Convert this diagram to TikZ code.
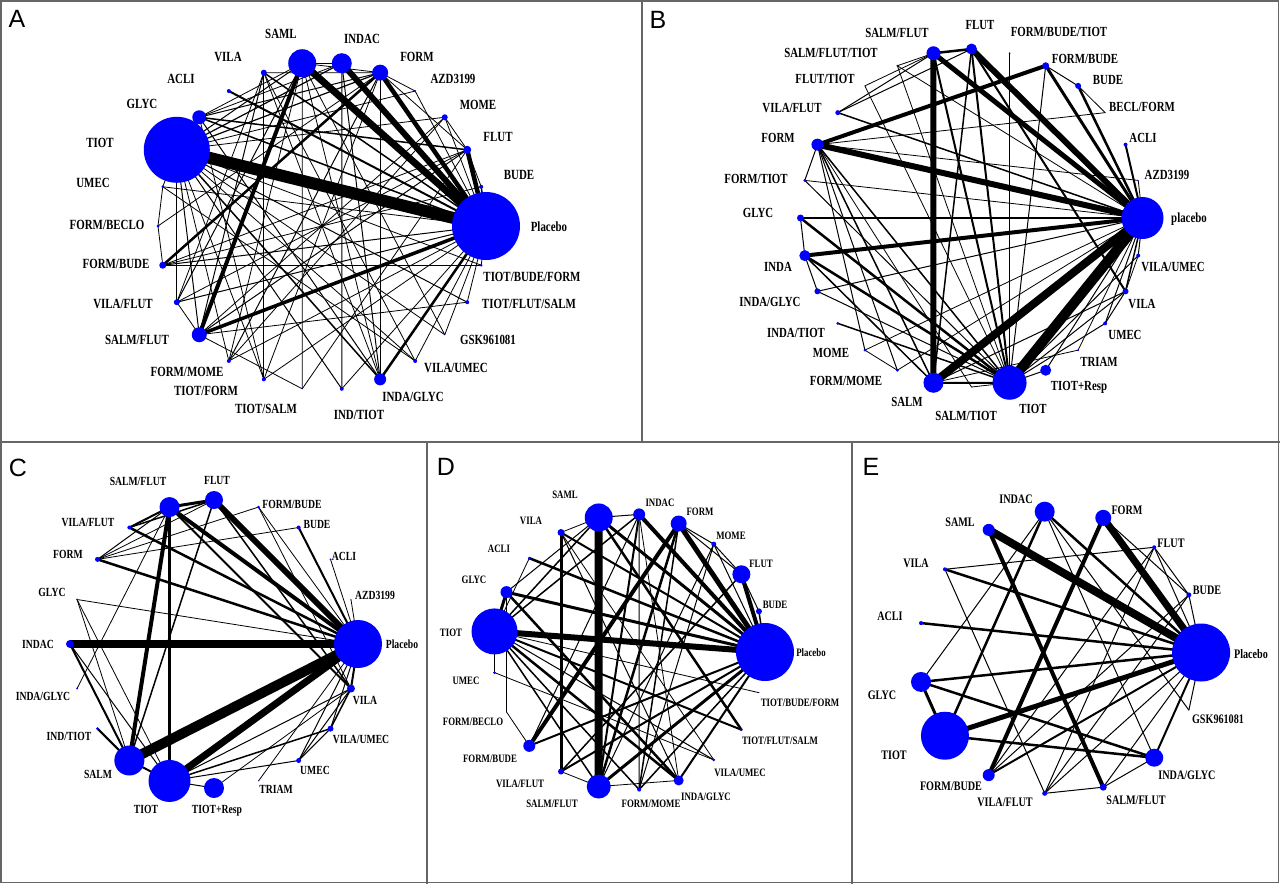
\documentclass[tikz,border=0pt]{standalone}
\usepackage{fontspec}
\setmainfont{Liberation Serif}
\newfontfamily\labfont[FakeStretch=0.78]{Liberation Serif}
\newfontfamily\letfont{Liberation Sans}
\definecolor{netblue}{RGB}{0,0,255}
\pgfdeclarelayer{bg}
\pgfdeclarelayer{edges}
\pgfsetlayers{bg,edges,main}
\tikzset{
 dot/.style={circle, fill=netblue, draw=none, inner sep=0pt, outer sep=0pt},
 lab/.style={inner sep=0pt, anchor=center},
 labA/.style={lab, font=\labfont\bfseries\fontsize{14}{14}\selectfont},
 labB/.style={lab, font=\labfont\bfseries\fontsize{13.9}{14}\selectfont},
 labC/.style={lab, font=\labfont\bfseries\fontsize{12.4}{13}\selectfont},
 labD/.style={lab, font=\labfont\bfseries\fontsize{11.3}{12}\selectfont},
 labE/.style={lab, font=\labfont\bfseries\fontsize{13}{13}\selectfont},
 edge/.style={draw=black, line cap=butt},
 panelletter/.style={font=\letfont\fontsize{25}{25}\selectfont, inner sep=0pt},
 frame/.style={draw=black!60, line width=1.2pt}
}
\newcommand\netnodes[8]{%
  \foreach \kk/\nm/\rad/\lx/\ly/\txt in {#8}{%
    \pgfmathsetmacro\ang{\kk*360/#6}%
    \node[dot, minimum size={2*\rad}] (#1\nm) at ({#2+#4*cos(\ang)},{#3-#5*sin(\ang)}) {};
    \node[#7] (#1\nm-l) at (\lx,\ly) {\txt};
  }%
}
\newcommand\netedges[2]{%
  \begin{pgfonlayer}{edges}
  \foreach \ea/\eb/\ew in {#2} \draw[edge, line width=\ew] (#1\ea.center) -- (#1\eb.center);
  \end{pgfonlayer}
}
\begin{document}
\begin{tikzpicture}[x=1pt,y=-1pt]
\useasboundingbox (0,0) rectangle (1280,884);
\begin{pgfonlayer}{bg}
\fill[white] (0,0) rectangle (1280,884);
\end{pgfonlayer}
% frames
\draw[frame] (1,1) rectangle (1278.5,882.5);
\draw[frame] (0,442) -- (1280,442);
\draw[frame] (642,0) -- (642,442);
\draw[frame] (427,442) -- (427,884);
\draw[frame] (852,442) -- (852,884);
% panel letters
\node[panelletter] (LA) at (17,19) {A};
\node[panelletter] (LB) at (658,20) {B};
\node[panelletter] (LC) at (18,468) {C};
\node[panelletter] (LD) at (446,467) {D};
\node[panelletter] (LE) at (871,467) {E};

% ---------------- Panel A ----------------
\netnodes{A}{322}{226}{164}{164}{26}{labA}{
0/pl/34/549/227/Placebo, 1/bude/2/519/175/BUDE, 2/flut/4/498/137/FLUT,
3/mome/3/478/105/MOME, 4/azd/1/453/79/AZD3199, 5/form/8/417/57/FORM,
6/indac/10/362/39/INDAC, 7/saml/14/281/34/SAML, 8/vila/3/228/57/VILA,
9/acli/2/181/79/ACLI, 10/glyc/7/142/104/GLYC, 11/tiot/33/100/143/TIOT,
12/umec/1.5/93/183/UMEC, 13/fbec/1.5/107/225/{FORM/BECLO},
14/fbud/3.5/116/264/{FORM/BUDE}, 15/vflu/3/123/304/{VILA/FLUT},
16/sflu/7.5/137/340/{SALM/FLUT}, 17/fmom/2/187/372/{FORM/MOME},
18/tfor/2/206/391/{TIOT/FORM}, 19/tsal/0.5/266/409/{TIOT/SALM},
20/itio/2/359/415/{IND/TIOT}, 21/iglyc/6/413/397/{INDA/GLYC},
22/vume/2/456/368/{VILA/UMEC}, 23/gsk/0.5/488/340/GSK961081,
24/tfs/2/529/304/{TIOT/FLUT/SALM}, 25/tbf/1.5/532/277/{TIOT/BUDE/FORM}}
\netedges{A}{pl/tiot/12, pl/saml/7, pl/indac/6, pl/form/4.5, pl/flut/4.5, pl/sflu/3.5, pl/iglyc/2.5, pl/acli/2, pl/glyc/1.5, pl/vila/1.5, pl/fbud/1, pl/vflu/1, pl/umec/0.8, pl/mome/0.8, pl/azd/0.8, pl/bude/1.5, pl/tbf/0.8, pl/tfs/0.8, pl/gsk/0.8, pl/vume/0.8, pl/fmom/0.8, pl/itio/0.8, pl/tfor/0.8,
saml/sflu/4, fbud/form/2.5, glyc/flut/1.5,
tiot/sflu/1, tiot/vflu/1, tiot/fmom/0.8, tiot/tfor/0.8, tiot/itio/1, tiot/iglyc/1.5, tiot/vume/0.8, tiot/gsk/0.8, tiot/tfs/1, tiot/tbf/0.8, tiot/glyc/0.8, tiot/umec/0.8, tiot/indac/1.2, tiot/form/1.2, tiot/saml/1, tiot/mome/0.8, tiot/azd/0.8,
saml/indac/1, saml/form/0.8, saml/vflu/1, saml/fmom/0.8, saml/tsal/0.8, saml/glyc/0.8, saml/iglyc/0.8, saml/gsk/0.8,
vila/vflu/0.8, vila/tfor/0.8, vila/vume/0.8, vila/sflu/1, vila/iglyc/0.8, vila/form/0.8,
glyc/iglyc/1, glyc/form/1, glyc/indac/0.8, glyc/tfor/0.8,
umec/fbec/0.8, umec/vume/0.8, fbec/fbud/0.8, fbec/form/0.8,
fbud/bude/0.8, fbud/tbf/0.8, fbud/flut/0.8, vflu/sflu/0.8, vflu/flut/0.8,
sflu/flut/1, sflu/tfs/0.8, sflu/mome/0.8, sflu/tsal/0.8,
fmom/mome/0.8, fmom/form/1, tfor/form/0.8, itio/indac/1, iglyc/indac/1, iglyc/form/1,
mome/flut/0.8, flut/form/0.8, flut/bude/0.8, azd/form/0.8, tsal/flut/0.8}

% ---------------- Panel B ----------------
\netnodes{B}{971.5}{218}{171}{169}{28}{labB}{
0/pl/21/1189/219/placebo, 1/azd/0.5/1167/175/AZD3199, 2/acli/2/1143/138/ACLI,
3/becl/0.5/1142/107/{BECL/FORM}, 4/bude/3/1108/80/BUDE, 5/fbud/3.5/1085/59/{FORM/BUDE},
6/fbt/1/1059/32/{FORM/BUDE/TIOT}, 7/flut/5.5/980/25/FLUT, 8/sflu/7/897/33/{SALM/FLUT},
9/sft/1/831/53/{SALM/FLUT/TIOT}, 10/ftio/0.5/825/79/{FLUT/TIOT}, 11/vflu/2.5/792/108/{VILA/FLUT},
12/form/6/778/138/FORM, 13/ftiot/1.5/756/179/{FORM/TIOT}, 14/glyc/3.5/758/213/GLYC,
15/inda/5.5/778/267/INDA, 16/iglyc/3/770/302/{INDA/GLYC}, 17/itio/1.5/796/333/{INDA/TIOT},
18/mome/1.5/831/353/MOME, 19/fmom/1.5/846/381/{FORM/MOME}, 20/salm/10/907/402/SALM,
21/stio/0.5/966/416/{SALM/TIOT}, 22/tiot/17/1033/409/TIOT, 23/tres/5.5/1079/387/TIOT+Resp,
24/triam/1/1099/362/TRIAM, 25/umec/2/1125/335/UMEC, 26/vila/3/1142/304/VILA,
27/vume/2/1173/267/{VILA/UMEC}}
\netedges{B}{pl/tiot/10, pl/salm/8, pl/flut/6, pl/form/6, pl/sflu/5, pl/inda/4, pl/fbud/3, pl/bude/2.5, pl/glyc/2, pl/acli/2, pl/vila/1.5, pl/vflu/1.5, pl/iglyc/1, pl/tres/1, pl/triam/0.8, pl/umec/1, pl/vume/1, pl/azd/0.8, pl/mome/0.8, pl/fmom/0.8, pl/ftiot/0.8, pl/sft/0.8,
sflu/salm/6, form/fbud/4, sflu/flut/2.5, sflu/tiot/2, flut/tiot/2, flut/vila/2, fbt/tiot/0.8, salm/tiot/2, inda/tiot/2.5, glyc/tiot/2.5, itio/tiot/1.5, mome/form/1, fmom/form/1, fmom/mome/0.8, vflu/flut/1, vflu/sflu/1, ftiot/form/1, ftiot/tiot/1, ftio/sflu/0.8, ftio/tiot/0.8, sft/sflu/0.8, sft/tiot/0.8, iglyc/inda/1, iglyc/tiot/1, tres/tiot/1, umec/tiot/1, umec/vila/1, vila/tiot/1, vila/salm/1, vume/tiot/1, vume/vila/0.8, becl/bude/0.8, becl/form/0.8, form/tiot/1.5, form/salm/1.5, flut/salm/1.5, glyc/inda/1, inda/salm/1.5, fbud/bude/1, fbud/tiot/1, stio/form/0.8, stio/tiot/0.8, triam/salm/0.8, azd/form/0.8}

% ---------------- Panel C ----------------
\netnodes{C}{214}{644}{144}{144}{20}{labC}{
0/pl/24/402/644/Placebo, 1/azd/0.5/375/595/AZD3199, 2/acli/1/344/556/ACLI,
3/bude/2/317/524/BUDE, 4/fbud/1.5/292/504/{FORM/BUDE}, 5/flut/9/217/480/FLUT,
6/sflu/10/138/481/{SALM/FLUT}, 7/vflu/2/88/522/{VILA/FLUT}, 8/form/2.5/68/554/FORM,
9/glyc/1/52/592/GLYC, 10/indac/4/38/644/INDAC, 11/iglyc/1/43/696/{INDA/GLYC},
12/itio/1.5/69/736/{IND/TIOT}, 13/salm/15/98/774/SALM, 14/tiot/21/146/809/TIOT,
15/tres/10/217/811/TIOT+Resp, 16/triam/0.5/276/789/TRIAM, 17/umec/2.5/315/770/UMEC,
18/vume/3/361/739/{VILA/UMEC}, 19/vila/4/365/700/VILA}
\netedges{C}{pl/salm/10, pl/indac/8, pl/tiot/7, pl/flut/6, pl/sflu/4, pl/vflu/2.5, pl/form/2.5, pl/bude/2, pl/vila/2, pl/glyc/0.8, pl/fbud/0.8, pl/acli/0.8, pl/azd/0.8, pl/umec/1, pl/vume/1, pl/triam/0.8,
sflu/salm/4, sflu/tiot/2.5, sflu/flut/3, sflu/vila/2, flut/vila/1.5, flut/salm/1.5, vflu/sflu/2, vflu/flut/1.5, form/sflu/1, form/flut/0.8, form/bude/0.8, glyc/salm/0.8, glyc/tiot/0.8, iglyc/sflu/0.8, indac/salm/2, indac/tiot/1, itio/salm/2, fbud/vila/0.8, fbud/form/0.8, tiot/vila/1, tiot/vume/1.5, tiot/umec/1, tiot/tres/1, tres/vila/0.8, umec/vume/1, umec/vila/1, salm/tiot/2, vume/vila/1.5}

% ---------------- Panel D ----------------
\netnodes{D}{629}{652}{136}{138}{21}{labD}{
0/pl/29/811/653/Placebo, 1/bude/3/775/605/BUDE, 2/flut/9/761/564/FLUT,
3/mome/2.5/731/536/MOME, 4/form/8/700/512/FORM, 5/indac/6/660/503/INDAC,
6/saml/14/565/495/SAML, 7/vila/3.5/531/521/VILA, 8/acli/1.5/499/549/ACLI,
9/glyc/6/474/580/GLYC, 10/tiot/23/451/633/TIOT, 11/umec/1.5/466/681/UMEC,
12/fbec/0.5/473/722/{FORM/BECLO}, 13/fbud/6/490/759/{FORM/BUDE}, 14/vflu/3/520/784/{VILA/FLUT},
15/sflu/12/552/804/{SALM/FLUT}, 16/fmom/2/651/804/{FORM/MOME}, 17/iglyc/5/706/797/{INDA/GLYC},
18/vume/1.5/740/773/{VILA/UMEC}, 19/tfs/1.5/780/741/{TIOT/FLUT/SALM}, 20/tbf/0.5/800/703/{TIOT/BUDE/FORM}}
\netedges{D}{saml/sflu/8, pl/tiot/6, pl/form/5, pl/indac/4, pl/flut/4, form/fbud/4, vila/vflu/3, pl/saml/3, pl/sflu/3, glyc/tiot/3, pl/glyc/3, pl/acli/2.5, pl/vila/2, tiot/iglyc/2.5, tiot/sflu/1.5, tiot/vume/1, tiot/tfs/2, tiot/tbf/0.8, tiot/fmom/1.5, glyc/iglyc/2.5, fbud/pl/2, fbud/fbec/0.8, vume/umec/0.8, vume/vila/0.8, umec/tiot/0.8, fbec/glyc/0.8, fmom/form/1.5, fmom/mome/1, fmom/pl/1.5, mome/pl/1, mome/form/1, mome/flut/1, bude/pl/1.5, bude/flut/1, iglyc/pl/2, iglyc/indac/0.8, iglyc/sflu/0.8, vflu/pl/2, vflu/sflu/0.8, vflu/flut/1.5, vila/saml/0.8, vila/iglyc/1, tiot/indac/1.5, tiot/saml/1.5, fbud/indac/1, sflu/indac/2, sflu/form/2.5, form/flut/1, saml/indac/1, saml/tfs/2.5, sflu/mome/1, fmom/indac/1, glyc/saml/1, acli/tiot/0.8}

% ---------------- Panel E ----------------
\netnodes{E}{1059.5}{652.5}{141.6}{141.6}{15}{labE}{
0/pl/29/1251/654/Placebo, 1/bude/2.5/1207/590/BUDE, 2/flut/2/1171/543/FLUT,
3/form/8/1127/510/FORM, 4/indac/10/1016/499/INDAC, 5/saml/6/960/522/SAML,
6/vila/2/916/563/VILA, 7/acli/2/890/616/ACLI, 8/glyc/10/882/695/GLYC,
9/tiot/24/894/755/TIOT, 10/fbud/6/951/786/{FORM/BUDE}, 11/vflu/2.5/1005/802/{VILA/FLUT},
12/sflu/3.5/1136/800/{SALM/FLUT}, 13/iglyc/9/1187/775/{INDA/GLYC}, 14/gsk/0.5/1218/719/GSK961081}
\netedges{E}{pl/saml/8, pl/form/7, pl/tiot/5, saml/sflu/4, form/fbud/4, pl/indac/2.5, pl/vila/2.5, pl/acli/2.5, pl/glyc/2.5, glyc/tiot/3, glyc/iglyc/2.5, tiot/iglyc/2.5, tiot/indac/2.5, glyc/indac/1, indac/iglyc/1, pl/iglyc/2, pl/fbud/2, fbud/bude/1, fbud/flut/1, vflu/flut/1, vflu/pl/1, vflu/sflu/1, vflu/vila/1, vila/flut/1, sflu/iglyc/1, gsk/pl/1, gsk/indac/1, flut/pl/1, bude/pl/1, flut/bude/1, form/bude/1, sflu/pl/1, vflu/bude/1}
\end{tikzpicture}
\end{document}
